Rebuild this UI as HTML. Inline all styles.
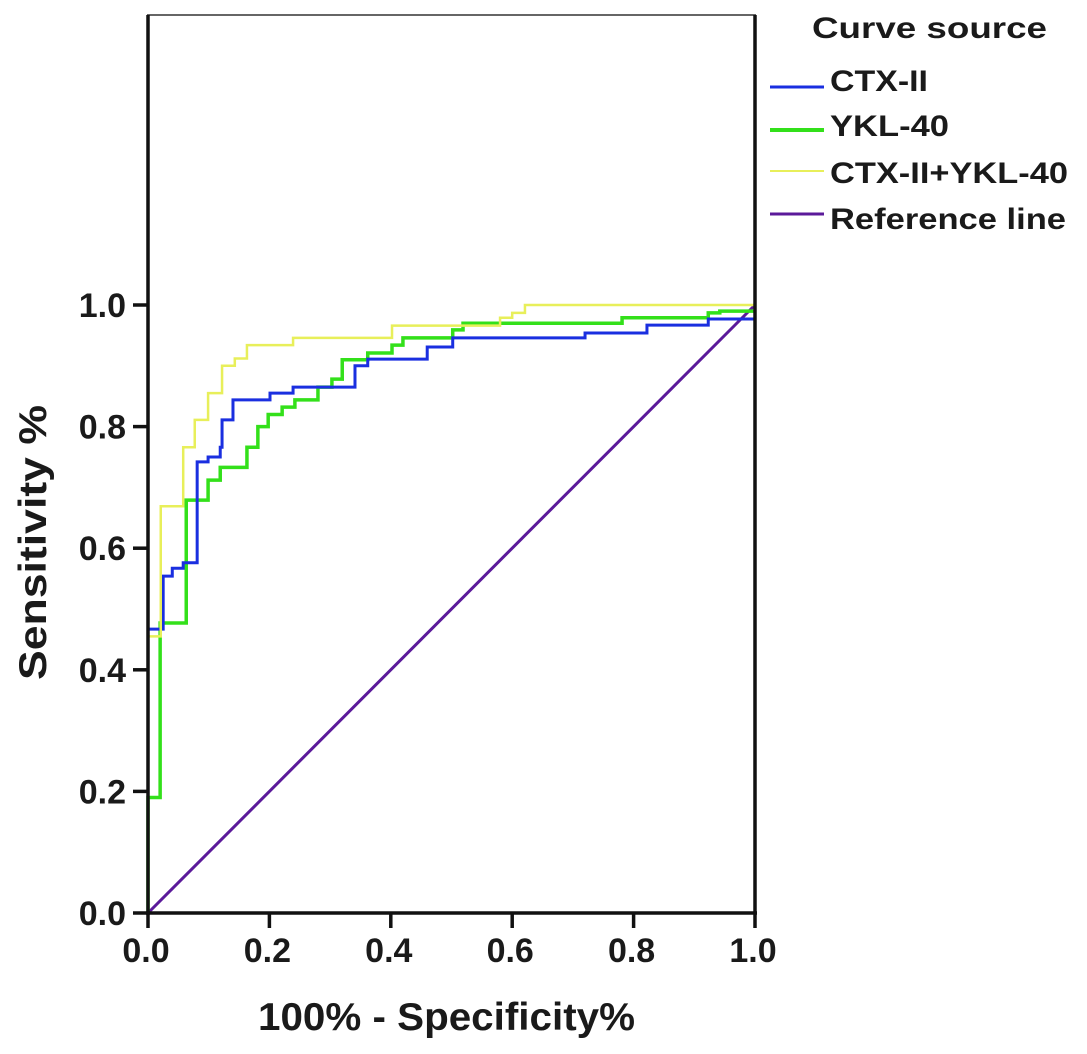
<!DOCTYPE html>
<html><head><meta charset="utf-8"><style>
body{margin:0;background:#fff}
svg text{font-family:"Liberation Sans",Arial,sans-serif;font-weight:bold;fill:#1a1a1a}
</style></head><body>
<svg id="chart" width="1087" height="1049" viewBox="0 0 1087 1049" xmlns="http://www.w3.org/2000/svg">
<rect x="148" y="15" width="607" height="898" fill="#fff" stroke="#666" stroke-width="2"/>
<g id="marks"></g>
<g id="axes"></g>
<text x="258" y="1030" font-size="39" textLength="377" lengthAdjust="spacingAndGlyphs">100% - Specificity%</text>
<text transform="translate(46,680) rotate(-90)" font-size="39" textLength="275" lengthAdjust="spacingAndGlyphs">Sensitivity %</text>
<g>
<text x="812" y="38" font-size="30" textLength="235" lengthAdjust="spacingAndGlyphs">Curve source</text>
<line x1="770" y1="87" x2="824" y2="87" stroke="#1a2fe0" stroke-width="3"/>
<text x="830" y="91" font-size="30" textLength="98" lengthAdjust="spacingAndGlyphs">CTX-II</text>
<line x1="770" y1="130" x2="824" y2="130" stroke="#33e01a" stroke-width="4"/>
<text x="830" y="136" font-size="30" textLength="119" lengthAdjust="spacingAndGlyphs">YKL-40</text>
<line x1="770" y1="171" x2="824" y2="171" stroke="#e8ef5a" stroke-width="2"/>
<text x="830" y="183" font-size="30" textLength="238" lengthAdjust="spacingAndGlyphs">CTX-II+YKL-40</text>
<line x1="770" y1="214" x2="824" y2="214" stroke="#5b1a9a" stroke-width="3"/>
<text x="830" y="229" font-size="30" textLength="236" lengthAdjust="spacingAndGlyphs">Reference line</text>
</g>
</svg>
<script>
const xTicks=[0,0.2,0.4,0.6,0.8,1.0];
const yTicks=[0,0.2,0.4,0.6,0.8,1.0];
const tickLabels=["0.0","0.2","0.4","0.6","0.8","1.0"];
const ctxFpr=[0,0.025,0.04,0.058,0.081,0.099,0.119,0.122,0.14,0.201,0.239,0.341,0.362,0.46,0.502,0.72,0.822,0.923,1];
const ctxTpr=[0.467,0.554,0.567,0.576,0.742,0.75,0.766,0.811,0.844,0.855,0.865,0.90,0.911,0.931,0.946,0.954,0.967,0.977,0.977];
const yklFpr=[0,0.02,0.063,0.099,0.119,0.163,0.181,0.198,0.221,0.242,0.28,0.303,0.32,0.362,0.402,0.42,0.502,0.519,0.781,0.923,0.942,1];
const yklTpr=[0.19,0.477,0.679,0.712,0.733,0.766,0.80,0.82,0.832,0.844,0.865,0.878,0.91,0.921,0.934,0.946,0.959,0.97,0.979,0.987,0.99,0.99];
const comboFpr=[0,0.021,0.058,0.077,0.099,0.122,0.143,0.163,0.239,0.402,0.58,0.60,0.621,1];
const comboTpr=[0.455,0.669,0.766,0.811,0.855,0.90,0.912,0.934,0.946,0.966,0.979,0.987,1.0,1.0];
const refX=[0,1];
const refY=[0,1];
const NS="http://www.w3.org/2000/svg";
const X0=148,X1=755,Y0=913,Y1=305;
function sx(v){return X0+v*(X1-X0);}
function sy(v){return Y0-v*(Y0-Y1);}
const marks=document.getElementById('marks');
const axes=document.getElementById('axes');
function stepPath(xs,ys){
  let d="M"+sx(0)+","+sy(0);
  for(let i=0;i<xs.length;i++){d+=" H"+sx(xs[i])+" V"+sy(ys[i]);}
  return d;
}
function addPath(d,color,w,name){
  const p=document.createElementNS(NS,'path');
  p.setAttribute('d',d);p.setAttribute('fill','none');
  p.setAttribute('stroke',color);p.setAttribute('stroke-width',w);
  
  
  marks.appendChild(p);
}
addPath("M"+sx(refX[0])+","+sy(refY[0])+" L"+sx(refX[1])+","+sy(refY[1]),"#5b1a9a",3,"reference-line");
addPath(stepPath(yklFpr,yklTpr),"#33e01a",3.5,"ykl-40-curve");
addPath(stepPath(ctxFpr,ctxTpr),"#1a2fe0",3,"ctx-ii-curve");
addPath(stepPath(comboFpr,comboTpr),"#e8ef5a",2.5,"combined-curve");
function line(x1,y1,x2,y2,name){
  const l=document.createElementNS(NS,'line');
  l.setAttribute('x1',x1);l.setAttribute('y1',y1);l.setAttribute('x2',x2);l.setAttribute('y2',y2);
  l.setAttribute('stroke','#111');l.setAttribute('stroke-width',3.5);
  
  
  axes.appendChild(l);
}
line(X0,15,X0,Y0+2,'y-axis-line');
line(X0-2,Y0,X1+2,Y0,'x-axis-line');
line(X1,15,X1,Y0,'right-axis-line');
function txt(x,y,s,anchor,name){
  const t=document.createElementNS(NS,'text');
  t.setAttribute('x',x);t.setAttribute('y',y);t.setAttribute('font-size','34');
  t.setAttribute('text-anchor',anchor);t.textContent=s;
  
  
  axes.appendChild(t);
}
xTicks.forEach((v,i)=>{line(sx(v),Y0,sx(v),Y0+15,'x-tick');txt(sx(v)-2,Y0+49,tickLabels[i],'middle','x-tick-label');});
yTicks.forEach((v,i)=>{line(X0-15,sy(v),X0,sy(v),'y-tick');txt(X0-22,sy(v)+12,tickLabels[i],'end','y-tick-label');});
</script>
</body></html>
